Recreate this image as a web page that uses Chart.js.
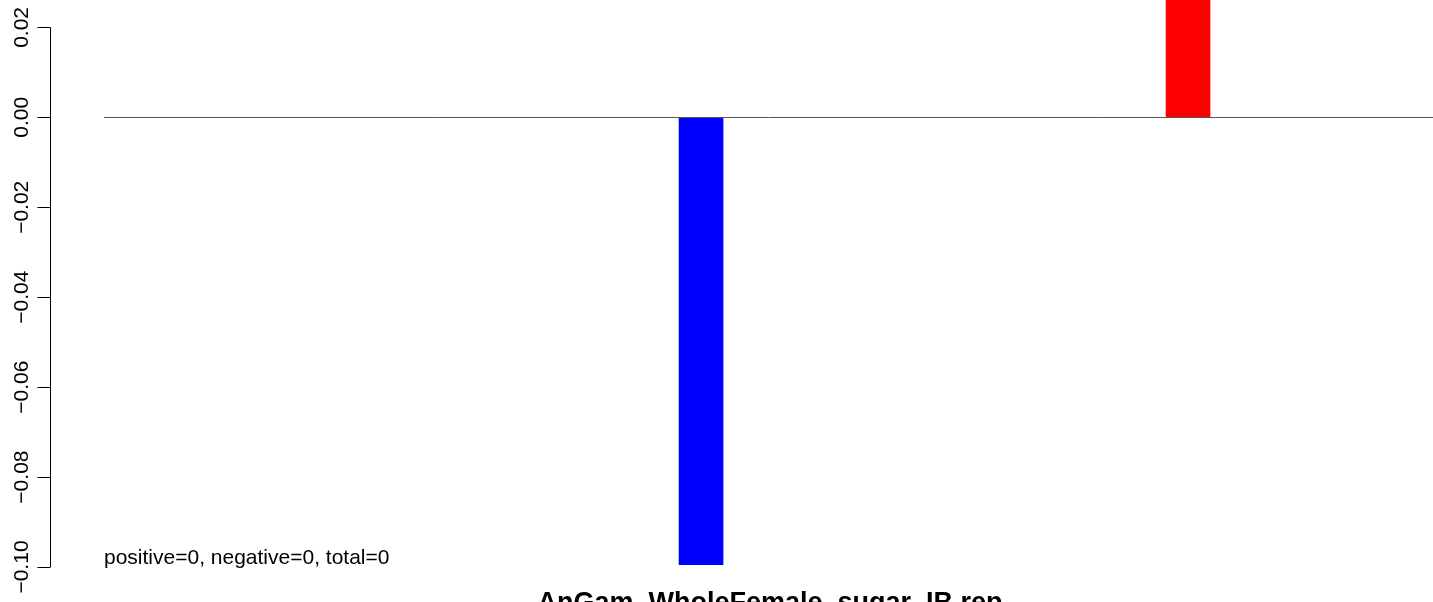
<!DOCTYPE html>
<html>
<head>
<meta charset="utf-8">
<script src="https://cdn.jsdelivr.net/npm/chart.js@4.4.0/dist/chart.umd.min.js"></script>
<style>
  html, body { margin: 0; padding: 0; background: #ffffff; overflow: hidden; }
  #plot-area { display: block; }
</style>
</head>
<body>
<canvas id="plot-area" width="1433" height="602"></canvas>
<script>
// bar positions (R barplot style) and values
const barPositions = [1, 2, 3];
const barValues = [0, -0.0995, 0.035];
const barColors = ["#0000FF", "#0000FF", "#FF0000"];
const yTicks = [0.02, 0, -0.02, -0.04, -0.06, -0.08, -0.10];
const yTickLabels = ["0.02", "0.00", "\u22120.02", "\u22120.04", "\u22120.06", "\u22120.08", "\u22120.10"];
const plotTitle = "AnGam_WholeFemale_sugar_IB.rep";
const countsText = "positive=0, negative=0, total=0";

const FONT = "'Liberation Sans', Arial, Helvetica, sans-serif";

// draws the R-like axis, zero line and texts
const rDecorations = {
  id: "rDecorations",
  afterDatasetsDraw(chart) {
    const ctx = chart.ctx;
    const area = chart.chartArea;
    const y = chart.scales.y;
    ctx.save();

    // horizontal zero line
    const y0 = Math.round(y.getPixelForValue(0)) + 0.5;
    ctx.strokeStyle = "#555555";
    ctx.lineWidth = 1;
    ctx.beginPath();
    ctx.moveTo(area.left, y0);
    ctx.lineTo(area.right, y0);
    ctx.stroke();

    // y axis line and ticks
    const axisX = 50.5;
    const top = y.getPixelForValue(yTicks[0]);
    const bottom = y.getPixelForValue(yTicks[yTicks.length - 1]);
    ctx.strokeStyle = "#000000";
    ctx.beginPath();
    ctx.moveTo(axisX, top);
    ctx.lineTo(axisX, bottom);
    yTicks.forEach(function (v) {
      const py = Math.round(y.getPixelForValue(v)) + 0.5;
      ctx.moveTo(axisX, py);
      ctx.lineTo(axisX - 13, py);
    });
    ctx.stroke();

    // rotated tick labels
    ctx.fillStyle = "#000000";
    ctx.font = "21px " + FONT;
    ctx.textAlign = "center";
    ctx.textBaseline = "alphabetic";
    yTicks.forEach(function (v, i) {
      const py = y.getPixelForValue(v);
      ctx.save();
      ctx.translate(28, py);
      ctx.rotate(-Math.PI / 2);
      ctx.fillText(yTickLabels[i], 0, 0);
      ctx.restore();
    });

    // counts text
    ctx.textAlign = "left";
    ctx.font = "21px " + FONT;
    ctx.fillText(countsText, 104, 564);

    // title at the bottom
    ctx.textAlign = "center";
    ctx.font = "bold 27px " + FONT;
    ctx.fillText(plotTitle, 770, 611);

    ctx.restore();
  }
};

const data = {
  datasets: [{
    data: barPositions.map(function (p, i) { return { x: p, y: barValues[i] }; }),
    backgroundColor: barColors,
    borderWidth: 0,
    barThickness: 44
  }]
};

const config = {
  type: "bar",
  data: data,
  options: {
    responsive: false,
    animation: false,
    layout: { padding: { left: 104, right: 0, top: 0, bottom: 35 } },
    scales: {
      x: {
        type: "linear",
        offset: false,
        min: 0.774,
        max: 3.503,
        display: false
      },
      y: {
        min: -0.1,
        max: 0.0261,
        display: false
      }
    },
    plugins: {
      legend: { display: false },
      tooltip: { enabled: false }
    }
  },
  plugins: [rDecorations]
};

var ctx1 = document.getElementById("plot-area").getContext("2d");
var plot = new Chart(ctx1, config);
</script>
</body>
</html>
